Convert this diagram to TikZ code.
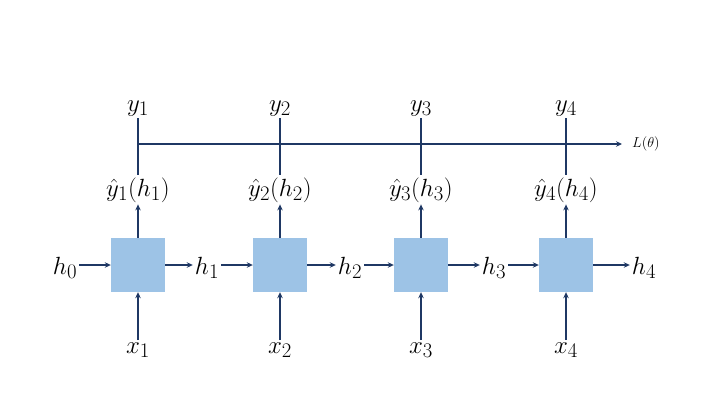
\documentclass[tikz,border=0pt]{standalone}
\usetikzlibrary{arrows.meta}
\definecolor{navy}{HTML}{1F3864}
\definecolor{boxblue}{HTML}{9DC3E6}
\begin{document}
\begin{tikzpicture}[x=1pt,y=-1pt,
  cell/.style={draw=none,fill=boxblue,minimum size=54pt,inner sep=0pt},
  lbl/.style={font=\fontsize{28}{32}\selectfont,inner sep=2pt,text=black},
  conn/.style={draw=navy,line width=1.7pt},
  arr/.style={conn,-{Stealth[length=6pt,width=5.5pt]}}]
\useasboundingbox (0,0) rectangle (720,405);
\foreach \i/\cx in {1/138,2/280,3/421,4/566}{
  \node[cell] (b\i) at (\cx,265) {};
  \node[lbl,anchor=base] (x\i) at (\cx,353) {$x_{\i}$};
  \node[lbl,anchor=base] (yh\i) at (\cx,196) {$\hat{y}_{\i}(h_{\i})$};
  \node[lbl,anchor=base] (y\i) at (\cx,111) {$y_{\i}$};
  \coordinate (c\i) at (\cx,144);
  \draw[arr] (x\i) -- (b\i);
  \draw[arr] (b\i) -- (yh\i);
  \draw[conn] (y\i) -- (yh\i);
}
\node[lbl,anchor=base] (h0) at (65,274) {$h_0$};
\node[lbl,anchor=base] (h1) at (207,274) {$h_1$};
\node[lbl,anchor=base] (h2) at (350,274) {$h_2$};
\node[lbl,anchor=base] (h3) at (494,274) {$h_3$};
\node[lbl,anchor=base] (h4) at (644,274) {$h_4$};
\draw[arr] (h0.east |- b1) -- (b1);
\draw[arr] (b1) -- (h1.west |- b1);
\draw[arr] (h1.east |- b2) -- (b2);
\draw[arr] (b2) -- (h2.west |- b2);
\draw[arr] (h2.east |- b3) -- (b3);
\draw[arr] (b3) -- (h3.west |- b3);
\draw[arr] (h3.east |- b4) -- (b4);
\draw[arr] (b4) -- (h4.west |- b4);
\node[anchor=west,font=\fontsize{15}{18}\selectfont,inner sep=0pt] (L) at (632,144) {$L(\theta)$};
\draw[arr] (c1) -- ([xshift=-10pt]L.west);
\end{tikzpicture}
\end{document}
